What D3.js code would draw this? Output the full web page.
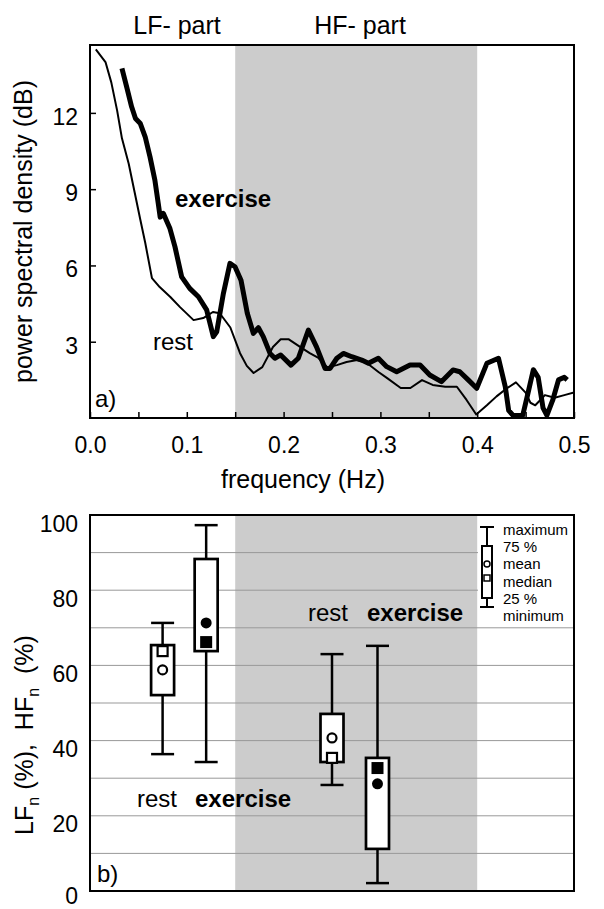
<!DOCTYPE html>
<html>
<head>
<meta charset="utf-8">
<script src="https://cdnjs.cloudflare.com/ajax/libs/d3/7.8.5/d3.min.js"></script>
<style>
body { margin: 0; background: #fff; }
svg { display: block; font-family: "Liberation Sans", Arial, sans-serif; }
</style>
</head>
<body>
<div id="chart"></div>
<script>
// ---- data ----
// a) power spectra
const restFreq = [0.006, 0.016, 0.022, 0.028, 0.033, 0.040, 0.046, 0.052, 0.057, 0.064, 0.072, 0.083, 0.093, 0.107, 0.117, 0.127, 0.134, 0.145, 0.155, 0.162, 0.169, 0.178, 0.189, 0.197, 0.205, 0.217, 0.227, 0.236, 0.245, 0.255, 0.265, 0.276, 0.286, 0.298, 0.307, 0.321, 0.331, 0.343, 0.354, 0.367, 0.379, 0.389, 0.399, 0.410, 0.420, 0.430, 0.440, 0.450, 0.455, 0.460, 0.470, 0.480, 0.490, 0.500];
const restPsd  = [14.5, 14.0, 13.2, 12.1, 11.0, 10.0, 8.9, 7.8, 6.9, 5.5, 5.15, 4.76, 4.36, 3.85, 3.93, 4.17, 4.12, 3.56, 2.55, 2.05, 1.77, 2.0, 2.79, 3.1, 3.1, 2.8, 2.55, 2.36, 2.0, 2.08, 2.2, 2.28, 2.16, 1.81, 1.57, 1.18, 1.18, 1.49, 1.3, 1.23, 1.23, 0.71, 0.14, 0.5, 0.85, 1.15, 1.4, 1.0, 0.6, 0.5, 0.9, 0.8, 0.9, 1.0];

const exerciseFreq = [0.033, 0.038, 0.043, 0.047, 0.052, 0.057, 0.062, 0.067, 0.0705, 0.0725, 0.0757, 0.0826, 0.0878, 0.0947, 0.103, 0.112, 0.1205, 0.1274, 0.1309, 0.1378, 0.1446, 0.1498, 0.156, 0.1625, 0.1687, 0.174, 0.179, 0.186, 0.191, 0.197, 0.2076, 0.2152, 0.2256, 0.234, 0.2428, 0.248, 0.255, 0.2617, 0.2704, 0.2807, 0.2876, 0.2979, 0.3065, 0.3168, 0.3306, 0.341, 0.351, 0.363, 0.375, 0.382, 0.391, 0.3995, 0.410, 0.422, 0.429, 0.4325, 0.437, 0.447, 0.452, 0.458, 0.463, 0.468, 0.472, 0.478, 0.484, 0.490, 0.493];
const exercisePsd  = [13.75, 13.0, 12.24, 11.78, 11.58, 11.06, 10.27, 9.36, 8.44, 7.9, 8.05, 7.45, 6.73, 5.55, 5.1, 4.77, 4.25, 3.2, 3.39, 4.9, 6.08, 5.95, 5.42, 4.12, 3.33, 3.55, 3.2, 2.54, 2.35, 2.48, 2.08, 2.35, 3.46, 2.8, 1.95, 1.95, 2.35, 2.54, 2.41, 2.28, 2.15, 2.35, 2.02, 1.82, 2.08, 2.08, 1.69, 1.43, 1.89, 1.82, 1.49, 1.17, 2.15, 2.35, 1.23, 0.3, 0.1, 0.1, 0.9, 1.9, 1.6, 0.4, 0.1, 0.7, 1.5, 1.6, 1.5];

const hfBand = [0.15, 0.4];
const xTicks = [0, 0.05, 0.1, 0.15, 0.2, 0.25, 0.3, 0.35, 0.4, 0.45, 0.5];
const xTickLabels = ["0.0", "0.1", "0.2", "0.3", "0.4", "0.5"];
const yTopTicks = [3, 6, 9, 12];

// b) normalised LF / HF box plots (positions on the same frequency scale)
const boxNames   = ["LF rest", "LF exercise", "HF rest", "HF exercise"];
const boxPos     = [0.075, 0.120, 0.250, 0.297];
const boxMin     = [36.4, 34.3, 28.2, 2.1];
const boxQ1      = [52.1, 63.8, 34.3, 11.2];
const boxMedian  = [63.8, 66.2, 35.4, 32.7];
const boxMean    = [58.8, 71.3, 40.7, 28.5];
const boxQ3      = [65.4, 88.3, 47.1, 35.4];
const boxMax     = [71.3, 97.3, 63.0, 65.2];
const boxFilled  = [false, true, false, true];
const yBotTicks  = [0, 20, 40, 60, 80, 100];
const yBotGrid   = [10, 20, 30, 40, 50, 60, 70, 80, 90];
const legendItems = ["maximum", "75 %", "mean", "median", "25 %", "minimum"];

// ---- layout ----
const W = 604, H = 909;
const left = 90, right = 574;
const topA = 45, botA = 418;
const topB = 515, botB = 891;

const svg = d3.select("#chart").append("svg")
    .attr("width", W)
    .attr("height", H);

svg.append("rect").attr("width", W).attr("height", H).attr("fill", "#fff");

const x = d3.scaleLinear().domain([0, 0.5]).range([left, right]);
const yA = d3.scaleLinear().domain([0, 14.67]).range([botA, topA]);
const yB = d3.scaleLinear().domain([0, 100]).range([botB, topB]);

// ===== panel a) =====
const gA = svg.append("g");

gA.append("rect")
    .attr("x", x(hfBand[0]))
    .attr("y", topA)
    .attr("width", x(hfBand[1]) - x(hfBand[0]))
    .attr("height", botA - topA)
    .attr("fill", "#cccccc");

gA.append("clipPath").attr("id", "clipA")
    .append("rect")
    .attr("x", left).attr("y", topA)
    .attr("width", right - left).attr("height", botA - topA);

const line = d3.line()
    .x(d => x(d[0]))
    .y(d => yA(d[1]));

gA.append("path")
    .datum(d3.zip(restFreq, restPsd))
    .attr("d", line)
    .attr("fill", "none")
    .attr("stroke", "#000")
    .attr("stroke-width", 2)
    .attr("stroke-linejoin", "round")
    .attr("clip-path", "url(#clipA)");

gA.append("path")
    .datum(d3.zip(exerciseFreq, exercisePsd))
    .attr("d", line)
    .attr("fill", "none")
    .attr("stroke", "#000")
    .attr("stroke-width", 5)
    .attr("stroke-linejoin", "round")
    .attr("clip-path", "url(#clipA)");

// x axis: inward ticks, labels every 0.1
const xAxis = gA.append("g")
    .attr("transform", `translate(0, ${botA})`)
    .call(d3.axisBottom(x)
        .tickValues(xTicks)
        .tickSizeInner(-6)
        .tickSizeOuter(0)
        .tickPadding(19)
        .tickFormat(d => {
            const i = xTicks.indexOf(d);
            return i % 2 === 0 ? xTickLabels[i / 2] : "";
        }));
xAxis.select(".domain").remove();
xAxis.selectAll("line").attr("stroke-width", 1.5);
xAxis.selectAll("text").attr("font-size", 23).attr("fill", "#000");

const yAxisA = gA.append("g")
    .attr("transform", `translate(${left}, 0)`)
    .call(d3.axisLeft(yA)
        .tickValues(yTopTicks)
        .tickSizeInner(-6)
        .tickSizeOuter(0)
        .tickPadding(12));
yAxisA.select(".domain").remove();
yAxisA.selectAll("line").attr("stroke-width", 1.5);
yAxisA.selectAll("text").attr("font-size", 23).attr("fill", "#000").attr("dy", "0.5em");

gA.append("rect")
    .attr("x", left).attr("y", topA)
    .attr("width", right - left).attr("height", botA - topA)
    .attr("fill", "none").attr("stroke", "#000").attr("stroke-width", 2);

// labels panel a)
gA.append("text").attr("x", 177).attr("y", 34).attr("text-anchor", "middle")
    .attr("font-size", 25).text("LF- part");
gA.append("text").attr("x", 360).attr("y", 34).attr("text-anchor", "middle")
    .attr("font-size", 25).text("HF- part");
gA.append("text").attr("x", 175).attr("y", 207)
    .attr("font-size", 24).attr("font-weight", "bold").text("exercise");
gA.append("text").attr("x", 153).attr("y", 350)
    .attr("font-size", 24).text("rest");
gA.append("text").attr("x", 95).attr("y", 407)
    .attr("font-size", 24).text("a)");
gA.append("text").attr("x", 303).attr("y", 488).attr("text-anchor", "middle")
    .attr("font-size", 25).text("frequency (Hz)");
gA.append("text")
    .attr("transform", `translate(32, ${(topA + botA) / 2}) rotate(-90)`)
    .attr("text-anchor", "middle")
    .attr("font-size", 25).text("power spectral density (dB)");

// ===== panel b) =====
const gB = svg.append("g");

gB.append("rect")
    .attr("x", x(hfBand[0]))
    .attr("y", topB)
    .attr("width", x(hfBand[1]) - x(hfBand[0]))
    .attr("height", botB - topB)
    .attr("fill", "#cccccc");

gB.selectAll(".grid")
    .data(yBotGrid)
    .enter().append("line")
    .attr("class", "grid")
    .attr("x1", left).attr("x2", right)
    .attr("y1", d => yB(d)).attr("y2", d => yB(d))
    .attr("stroke", "#999")
    .attr("stroke-width", 1);

const yAxisB = gB.append("g")
    .attr("transform", `translate(${left}, 0)`)
    .call(d3.axisLeft(yB)
        .tickValues(yBotTicks)
        .tickSize(0)
        .tickPadding(12));
yAxisB.select(".domain").remove();
yAxisB.selectAll("text").attr("font-size", 23).attr("fill", "#000")
    .attr("dy", d => d === 0 ? "0.55em" : "0.7em");

// legend background + icon
const lg = gB.append("g");
lg.append("rect").attr("x", 478).attr("y", topB).attr("width", right - 478).attr("height", 109)
    .attr("fill", "#fff");
lg.append("line").attr("x1", 487).attr("x2", 487).attr("y1", 527).attr("y2", 607)
    .attr("stroke", "#000").attr("stroke-width", 2);
[527, 607].forEach(yy => {
    lg.append("line").attr("x1", 480).attr("x2", 494).attr("y1", yy).attr("y2", yy)
        .attr("stroke", "#000").attr("stroke-width", 2);
});
lg.append("rect").attr("x", 482).attr("y", 546).attr("width", 10).attr("height", 52)
    .attr("fill", "#fff").attr("stroke", "#000").attr("stroke-width", 2);
lg.append("circle").attr("cx", 487).attr("cy", 564).attr("r", 3)
    .attr("fill", "#fff").attr("stroke", "#000").attr("stroke-width", 1.5);
lg.append("rect").attr("x", 484).attr("y", 575).attr("width", 6).attr("height", 6)
    .attr("fill", "#fff").attr("stroke", "#000").attr("stroke-width", 1.5);
lg.selectAll(".lgtext")
    .data(legendItems)
    .enter().append("text")
    .attr("class", "lgtext")
    .attr("x", 503)
    .attr("y", (d, i) => 535 + i * 17.2)
    .attr("font-size", 15)
    .text(d => d);

// boxes
const boxW = 23;
boxNames.forEach((name, i) => {
    const cx = x(boxPos[i]);
    const g = gB.append("g").attr("class", "box");
    g.append("line").attr("x1", cx).attr("x2", cx)
        .attr("y1", yB(boxMin[i])).attr("y2", yB(boxMax[i]))
        .attr("stroke", "#000").attr("stroke-width", 2.5);
    [boxMin[i], boxMax[i]].forEach(v => {
        g.append("line").attr("x1", cx - boxW / 2).attr("x2", cx + boxW / 2)
            .attr("y1", yB(v)).attr("y2", yB(v))
            .attr("stroke", "#000").attr("stroke-width", 2.5);
    });
    g.append("rect")
        .attr("x", cx - boxW / 2).attr("y", yB(boxQ3[i]))
        .attr("width", boxW).attr("height", yB(boxQ1[i]) - yB(boxQ3[i]))
        .attr("fill", "#fff").attr("stroke", "#000").attr("stroke-width", 2.7);
    if (boxFilled[i]) {
        g.append("circle").attr("cx", cx).attr("cy", yB(boxMean[i])).attr("r", 5.5).attr("fill", "#000");
        g.append("rect").attr("x", cx - 6).attr("y", yB(boxMedian[i]) - 6)
            .attr("width", 12).attr("height", 12).attr("fill", "#000");
    } else {
        g.append("circle").attr("cx", cx).attr("cy", yB(boxMean[i])).attr("r", 4.5)
            .attr("fill", "#fff").attr("stroke", "#000").attr("stroke-width", 2.2);
        g.append("rect").attr("x", cx - 5).attr("y", yB(boxMedian[i]) - 5)
            .attr("width", 10).attr("height", 10)
            .attr("fill", "#fff").attr("stroke", "#000").attr("stroke-width", 2.2);
    }
});

gB.append("rect")
    .attr("x", left).attr("y", topB)
    .attr("width", right - left).attr("height", botB - topB)
    .attr("fill", "none").attr("stroke", "#000").attr("stroke-width", 2);

// labels panel b)
gB.append("text").attr("x", 137).attr("y", 807).attr("font-size", 24).text("rest");
gB.append("text").attr("x", 195).attr("y", 807).attr("font-size", 24).attr("font-weight", "bold").text("exercise");
gB.append("text").attr("x", 308).attr("y", 621).attr("font-size", 24).text("rest");
gB.append("text").attr("x", 367).attr("y", 621).attr("font-size", 24).attr("font-weight", "bold").text("exercise");
gB.append("text").attr("x", 97).attr("y", 882).attr("font-size", 24).text("b)");

const yl = gB.append("text")
    .attr("transform", `translate(33, 735) rotate(-90)`)
    .attr("text-anchor", "middle")
    .attr("font-size", 25)
    .style("white-space", "pre");
yl.append("tspan").text("LF");
yl.append("tspan").attr("font-size", 16).attr("dy", 6).text("n");
yl.append("tspan").attr("dy", -6).text(" (%),  HF");
yl.append("tspan").attr("font-size", 16).attr("dy", 6).text("n");
yl.append("tspan").attr("dy", -6).text("  (%)");
</script>
</body>
</html>
